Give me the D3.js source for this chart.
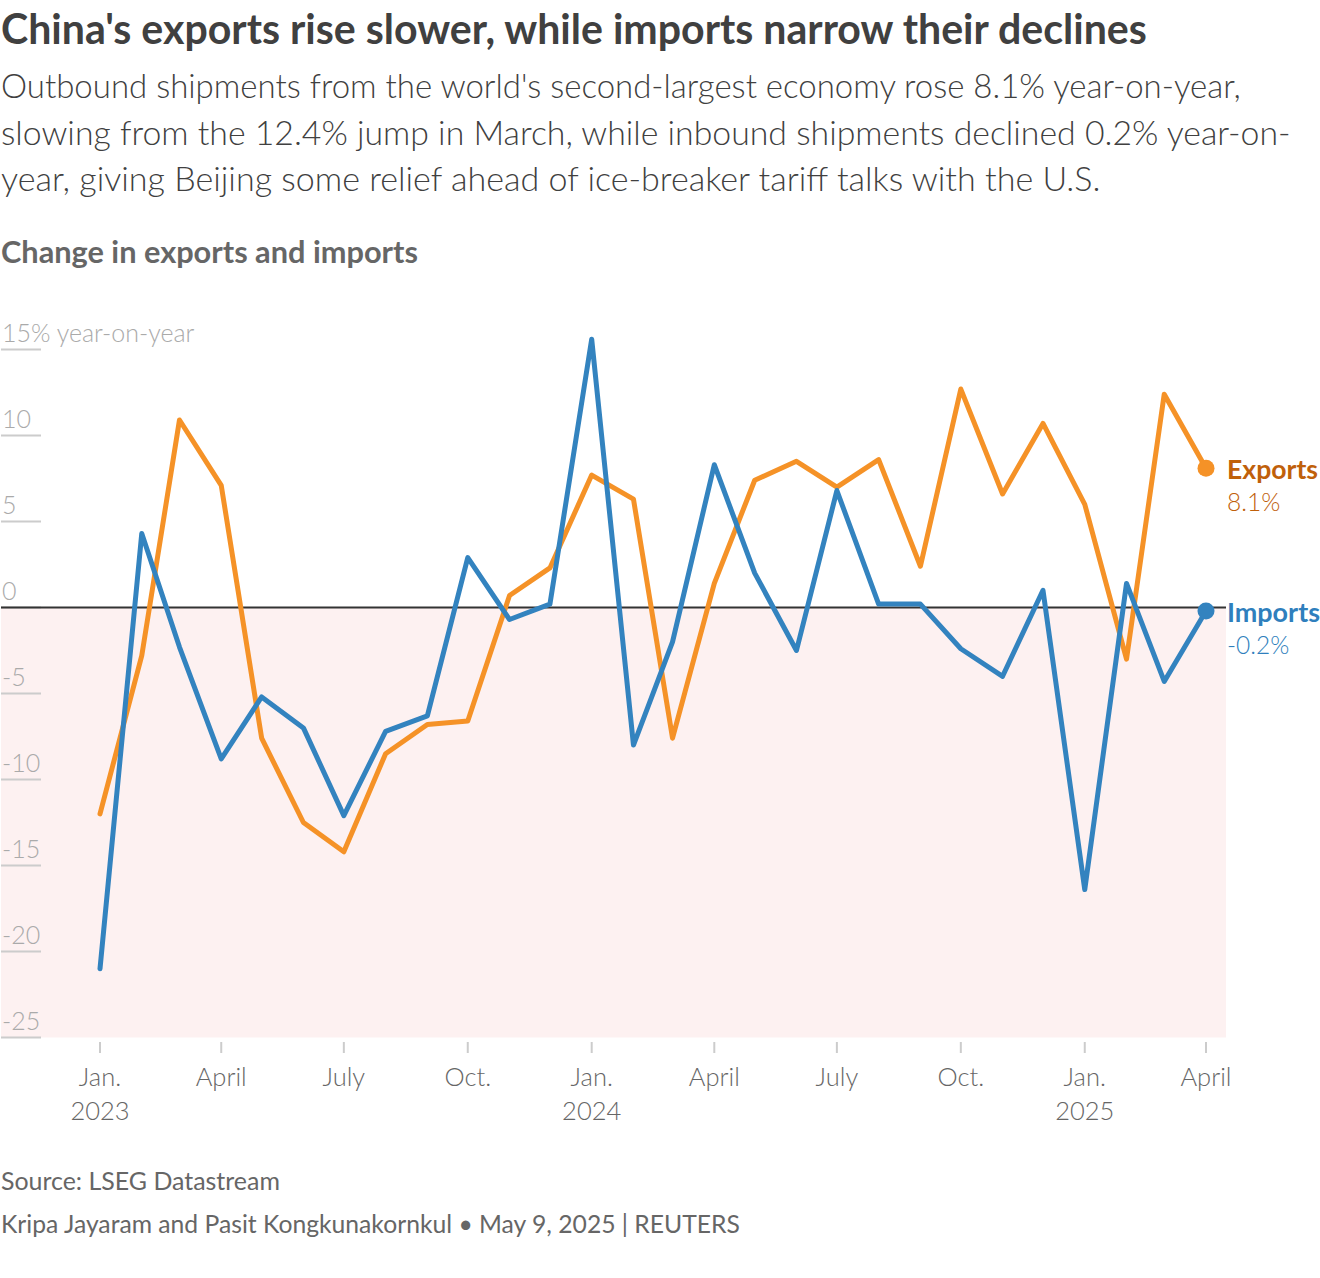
<!DOCTYPE html>
<html>
<head>
<meta charset="utf-8">
<script src="https://cdn.jsdelivr.net/npm/d3@7"></script>
<style>
  body { margin: 0; background: #fff; }
  svg { display: block; font-family: Lato, "Noto Sans", sans-serif; }
</style>
</head>
<body>
<svg id="chart" width="1320" height="1278"></svg>
<script>
// monthly data, Jan 2023 .. April 2025 (% change year-on-year)
var months = d3.timeMonths(new Date(2023, 0, 1), new Date(2025, 4, 1));
var exportsYoY = [-12.0, -2.8, 10.9, 7.1, -7.6, -12.5, -14.2, -8.5, -6.8, -6.6, 0.7, 2.3,
                  7.7, 6.3, -7.6, 1.4, 7.4, 8.5, 7.0, 8.6, 2.4, 12.7, 6.6, 10.7,
                  6.0, -3.0, 12.4, 8.1];
var importsYoY = [-21.0, 4.3, -2.3, -8.8, -5.2, -7.0, -12.1, -7.2, -6.3, 2.9, -0.7, 0.2,
                  15.6, -8.0, -2.0, 8.3, 2.0, -2.5, 6.8, 0.2, 0.2, -2.4, -4.0, 1.0,
                  -16.4, 1.4, -4.3, -0.2];
var yTicks = [15, 10, 5, 0, -5, -10, -15, -20, -25];
var xTickDates = [new Date(2023, 0, 1), new Date(2023, 3, 1), new Date(2023, 6, 1), new Date(2023, 9, 1),
                  new Date(2024, 0, 1), new Date(2024, 3, 1), new Date(2024, 6, 1), new Date(2024, 9, 1),
                  new Date(2025, 0, 1), new Date(2025, 3, 1)];
var xTickLabels = ["Jan.", "April", "July", "Oct.", "Jan.", "April", "July", "Oct.", "Jan.", "April"];
var xTickYears = ["2023", "", "", "", "2024", "", "", "", "2025", ""];

var svg = d3.select("#chart");

var x = d3.scaleTime()
  .domain([months[0], months[months.length - 1]])
  .range([100, 1206]);
var y = d3.scaleLinear().domain([-25, 15]).range([1037.5, 349.5]);

// fit a text element to a given width by tweaking its font size
function fit(sel, width) {
  var w = sel.node().getComputedTextLength();
  var fs = parseFloat(sel.attr("font-size"));
  sel.attr("font-size", (fs * width / w).toFixed(2));
  return sel;
}

// headings
fit(svg.append("text").attr("x", 1).attr("y", 44)
  .attr("font-size", 32).attr("font-weight", 700).attr("fill", "#404040")
  .text("China's exports rise slower, while imports narrow their declines"), 1146);

var subtitle = [
  ["Outbound shipments from the world's second-largest economy rose 8.1% year-on-year,", 1240],
  ["slowing from the 12.4% jump in March, while inbound shipments declined 0.2% year-on-", 1290],
  ["year, giving Beijing some relief ahead of ice-breaker tariff talks with the U.S.", 1100]
];
subtitle.forEach(function(s, i) {
  fit(svg.append("text").attr("x", 1).attr("y", 98 + i * 46.5)
    .attr("font-size", 28).attr("font-weight", 300).attr("fill", "#404040")
    .text(s[0]), s[1]);
});

fit(svg.append("text").attr("x", 1).attr("y", 263)
  .attr("font-size", 25).attr("font-weight", 700).attr("fill", "#666")
  .text("Change in exports and imports"), 417);

// negative zone
svg.append("rect")
  .attr("x", 1).attr("y", y(0))
  .attr("width", 1225).attr("height", y(-25) - y(0))
  .attr("fill", "#fdf1f1");

// y axis
var yAxis = svg.append("g").attr("class", "y-axis");
yAxis.selectAll("line").data(yTicks).join("line")
  .attr("x1", 1).attr("x2", 41)
  .attr("y1", function(d) { return y(d); }).attr("y2", function(d) { return y(d); })
  .attr("stroke", "#ccc").attr("stroke-width", 2);
yAxis.selectAll("text").data(yTicks).join("text")
  .attr("x", 2).attr("y", function(d) { return y(d) - 8; })
  .attr("font-size", 25).attr("font-weight", 300).attr("fill", "#aaa")
  .text(function(d) { return d === 15 ? "15% year-on-year" : d; });

// zero line
svg.append("line")
  .attr("x1", 1).attr("x2", 1226).attr("y1", y(0)).attr("y2", y(0))
  .attr("stroke", "#333").attr("stroke-width", 2);

// x axis
var xAxis = svg.append("g").attr("class", "x-axis");
xAxis.selectAll("line").data(xTickDates).join("line")
  .attr("x1", function(d) { return x(d); }).attr("x2", function(d) { return x(d); })
  .attr("y1", 1042).attr("y2", 1053)
  .attr("stroke", "#ccc").attr("stroke-width", 2);
xAxis.selectAll("text.month").data(xTickDates).join("text")
  .attr("class", "month")
  .attr("x", function(d) { return x(d); }).attr("y", 1086)
  .attr("text-anchor", "middle")
  .attr("font-size", 25.5).attr("font-weight", 300).attr("fill", "#666")
  .text(function(d, i) { return xTickLabels[i]; });
xAxis.selectAll("text.year").data(xTickDates).join("text")
  .attr("class", "year")
  .attr("x", function(d) { return x(d); }).attr("y", 1120)
  .attr("text-anchor", "middle")
  .attr("font-size", 25.5).attr("font-weight", 300).attr("fill", "#666")
  .text(function(d, i) { return xTickYears[i]; });

// lines
var series = [
  { name: "Exports", values: exportsYoY, color: "#f59227", label: "#c0600a", nameW: 91 },
  { name: "Imports", values: importsYoY, color: "#3383bf", label: "#2f7fbd", nameW: 93 }
];

var line = d3.line()
  .x(function(d, i) { return x(months[i]); })
  .y(function(d) { return y(d); });

series.forEach(function(s) {
  svg.append("path")
    .datum(s.values)
    .attr("d", line)
    .attr("fill", "none")
    .attr("stroke", s.color)
    .attr("stroke-width", 5)
    .attr("stroke-linejoin", "round")
    .attr("stroke-linecap", "round");

  var last = s.values[s.values.length - 1];
  var lx = x(months[months.length - 1]), ly = y(last);
  svg.append("circle").attr("cx", lx).attr("cy", ly).attr("r", 8.5).attr("fill", s.color);

  fit(svg.append("text").attr("x", 1227).attr("y", ly + 11)
    .attr("font-size", 26).attr("font-weight", 700).attr("fill", s.label)
    .text(s.name), s.nameW);
  svg.append("text").attr("x", 1227).attr("y", ly + 43)
    .attr("font-size", 24.5).attr("font-weight", 300).attr("fill", s.label)
    .text(last.toFixed(1) + "%");
});

// footer
fit(svg.append("text").attr("x", 1).attr("y", 1190)
  .attr("font-size", 22).attr("fill", "#666")
  .text("Source: LSEG Datastream"), 279);
fit(svg.append("text").attr("x", 1).attr("y", 1233)
  .attr("font-size", 22).attr("fill", "#666")
  .text("Kripa Jayaram and Pasit Kongkunakornkul \u2022 May 9, 2025 | REUTERS"), 739);
</script>
</body>
</html>
